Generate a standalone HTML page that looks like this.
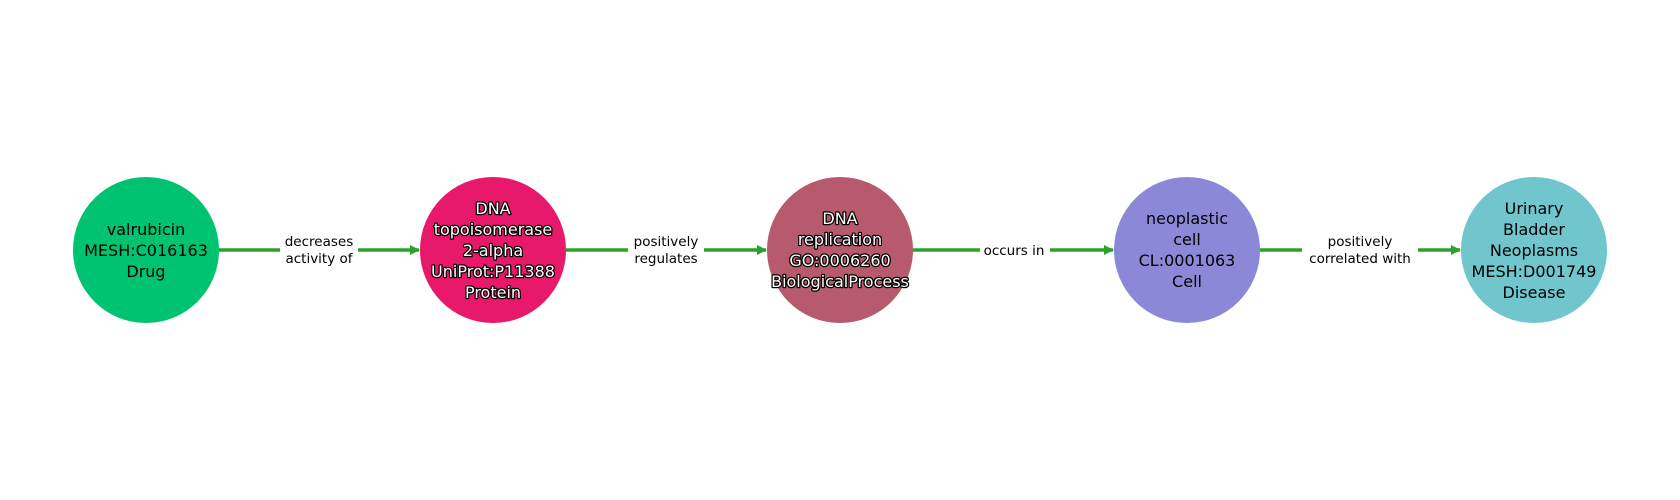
<!DOCTYPE html>
<html><head><meta charset="utf-8"><style>
html,body{margin:0;padding:0;background:#fff;}
svg{display:block;}
text{font-family:"DejaVu Sans","Liberation Sans",sans-serif;}
.n{font-size:16px;fill:#000;text-anchor:middle;}
.o{font-size:16px;fill:#fff;text-anchor:middle;stroke:#000;stroke-width:2.5px;paint-order:stroke;stroke-linejoin:round;}
.e{font-size:13.5px;fill:#000;text-anchor:middle;}
</style></head><body>
<svg width="1680" height="500" viewBox="0 0 1680 500">
<defs><marker id="a" markerWidth="10" markerHeight="10" refX="9" refY="5" orient="auto" markerUnits="userSpaceOnUse"><path d="M0,0 L10,5 L0,10 z" fill="#2ca02c"/></marker></defs>
<g stroke="#2ca02c" stroke-width="3.5" fill="none">
<line x1="219" y1="250" x2="419" y2="250" marker-end="url(#a)"/>
<line x1="566" y1="250" x2="766" y2="250" marker-end="url(#a)"/>
<line x1="913" y1="250" x2="1113" y2="250" marker-end="url(#a)"/>
<line x1="1260" y1="250" x2="1460" y2="250" marker-end="url(#a)"/>
</g>
<g fill="#fff">
<rect x="280" y="232" width="78" height="36"/>
<rect x="628" y="232" width="76" height="36"/>
<rect x="980" y="240" width="70" height="20"/>
<rect x="1302" y="232" width="116" height="36"/>
</g>
<text class="e" x="319" y="246">decreases</text><text class="e" x="319" y="263">activity of</text>
<text class="e" x="666" y="246">positively</text><text class="e" x="666" y="263">regulates</text>
<text class="e" x="1014" y="255">occurs in</text>
<text class="e" x="1360" y="246">positively</text><text class="e" x="1360" y="263">correlated with</text>
<circle cx="146" cy="250" r="73" fill="#00c371"/>
<circle cx="493" cy="250" r="73" fill="#e8196a"/>
<circle cx="840" cy="250" r="73" fill="#b85a6e"/>
<circle cx="1187" cy="250" r="73" fill="#8b88d8"/>
<circle cx="1534" cy="250" r="73" fill="#70c6cc"/>
<text class="n" x="146" y="235">valrubicin</text>
<text class="n" x="146" y="256">MESH:C016163</text>
<text class="n" x="146" y="277">Drug</text>
<text class="o" x="493" y="214">DNA</text>
<text class="o" x="493" y="235">topoisomerase</text>
<text class="o" x="493" y="256">2-alpha</text>
<text class="o" x="493" y="277">UniProt:P11388</text>
<text class="o" x="493" y="298">Protein</text>
<text class="o" x="840" y="224">DNA</text>
<text class="o" x="840" y="245">replication</text>
<text class="o" x="840" y="266">GO:0006260</text>
<text class="o" x="840" y="287">BiologicalProcess</text>
<text class="n" x="1187" y="224">neoplastic</text>
<text class="n" x="1187" y="245">cell</text>
<text class="n" x="1187" y="266">CL:0001063</text>
<text class="n" x="1187" y="287">Cell</text>
<text class="n" x="1534" y="214">Urinary</text>
<text class="n" x="1534" y="235">Bladder</text>
<text class="n" x="1534" y="256">Neoplasms</text>
<text class="n" x="1534" y="277">MESH:D001749</text>
<text class="n" x="1534" y="298">Disease</text>
</svg>
</body></html>
